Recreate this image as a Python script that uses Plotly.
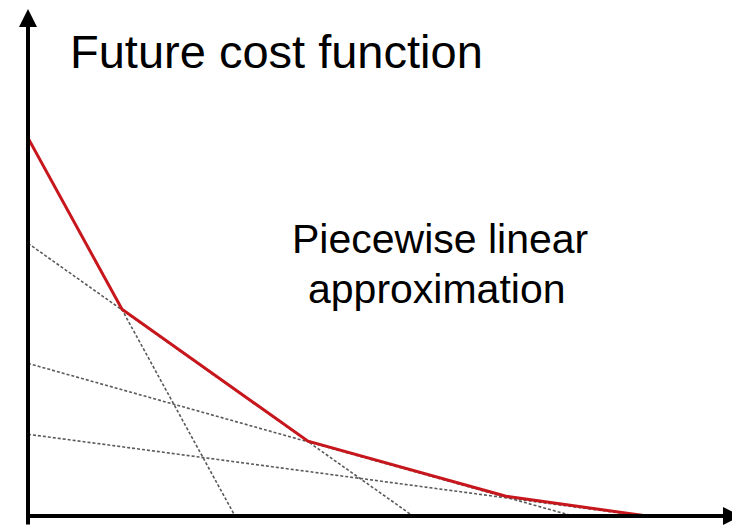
import plotly.graph_objects as go

# Data (storage on x, future cost on y; arbitrary units)
red_x = [0, 94, 280, 478, 619, 640]
red_y = [384, 210, 76, 20, 0, 0]

cut_a_x = [0, 207]
cut_a_y = [384, 0]
cut_b_x = [0, 385]
cut_b_y = [277, 0]
cut_c_x = [0, 545]
cut_c_y = [155, 0]
cut_d_x = [0, 615]
cut_d_y = [83, 0]

title_text = "Future cost function"
label_lines = ["Piecewise linear", "approximation"]

fig = go.Figure()
dot_style = dict(color="#5a5a5a", width=1.6, dash="3px,2px")
for xs, ys in [(cut_a_x, cut_a_y), (cut_b_x, cut_b_y), (cut_c_x, cut_c_y), (cut_d_x, cut_d_y)]:
    fig.add_trace(go.Scatter(x=xs, y=ys, mode="lines", line=dot_style,
                             hoverinfo="skip", showlegend=False))

fig.add_trace(go.Scatter(x=red_x, y=red_y, mode="lines",
                         line=dict(color="#c8161d", width=3),
                         showlegend=False))

XMAX, YMAX = 712, 516

# axes with arrows (paper coordinates so they are never hidden)
fig.add_annotation(x=0, y=(YMAX + 2) / YMAX, xref="paper", yref="paper",
                   ax=0, ay=YMAX + 4, axref="pixel", ayref="pixel",
                   showarrow=True, arrowhead=2, arrowsize=0.9, arrowwidth=4,
                   arrowcolor="black", text="", standoff=0)
fig.add_annotation(x=(XMAX + 1) / XMAX, y=0, xref="paper", yref="paper",
                   ax=-(XMAX + 3), ay=0, axref="pixel", ayref="pixel",
                   showarrow=True, arrowhead=2, arrowsize=0.9, arrowwidth=4,
                   arrowcolor="black", text="", standoff=0)

font = "Liberation Sans, Arial, sans-serif"
fig.add_annotation(x=40, y=472, xref="x", yref="y", text=title_text, showarrow=False,
                   xanchor="left", yanchor="middle", font=dict(family=font, size=47, color="black"))
fig.add_annotation(x=412, y=281, xref="x", yref="y", text=label_lines[0], showarrow=False,
                   xanchor="center", yanchor="middle", font=dict(family=font, size=41, color="black"))
fig.add_annotation(x=409, y=231, xref="x", yref="y", text=label_lines[1], showarrow=False,
                   xanchor="center", yanchor="middle", font=dict(family=font, size=41, color="black"))

fig.update_layout(
    width=740, height=525,
    margin=dict(l=20, r=8, t=0, b=17),
    paper_bgcolor="white", plot_bgcolor="white",
    xaxis=dict(range=[0, XMAX], visible=False, fixedrange=True),
    yaxis=dict(range=[0, YMAX], visible=False, fixedrange=True),
)

fig.write_html("out.html")
